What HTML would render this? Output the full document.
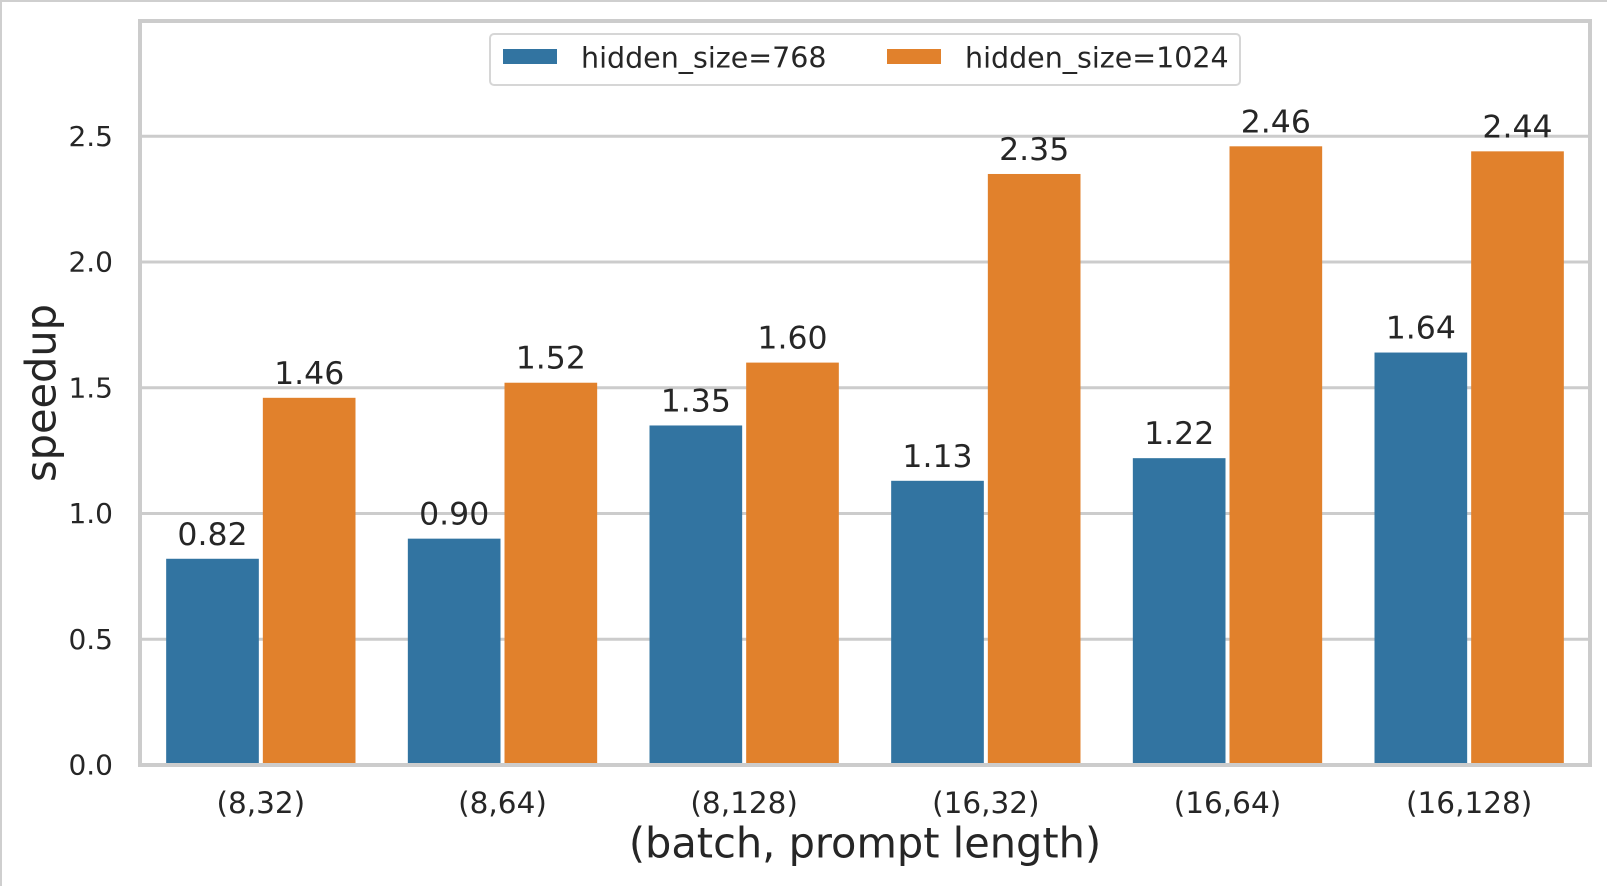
<!DOCTYPE html>
<html><head><meta charset="utf-8"><style>
html,body{margin:0;padding:0;background:#fff}
svg{display:block}
text{font-family:"DejaVu Sans","Liberation Sans",sans-serif;fill:#262626}
</style></head><body>
<svg id="chart" width="1607" height="886" viewBox="0 0 1607 886" xmlns="http://www.w3.org/2000/svg">
<rect x="1" y="1" width="1620" height="900" fill="#fff" stroke="#cfcfcf" stroke-width="2"/>
<g id="grid"></g>
<g id="bars"></g>
<g id="labels"></g>
<rect x="140" y="21" width="1450" height="744" fill="none" stroke="#cccccc" stroke-width="4"/>
<g id="yticks"></g>
<g id="xticks"></g>
<text x="41" y="393" font-size="41.5" text-anchor="middle" dominant-baseline="central" transform="rotate(-90 41 393)">speedup</text>
<text x="865" y="843" font-size="41.5" text-anchor="middle" dominant-baseline="central">(batch, prompt length)</text>
<g>
<rect x="490" y="34" width="750" height="51" rx="4" fill="#fff" stroke="#d6d6d6" stroke-width="2"/>
<rect x="503" y="49" width="54" height="15" fill="#3274a1"/>
<text x="581" y="58" font-size="28.5" dominant-baseline="central">hidden_size=768</text>
<rect x="887" y="49" width="54" height="15" fill="#e1812c"/>
<text x="965" y="58" font-size="28.5" dominant-baseline="central">hidden_size=1024</text>
</g>
</svg>
<script>
const categories = ["(8,32)","(8,64)","(8,128)","(16,32)","(16,64)","(16,128)"];
const series768 = [0.82,0.90,1.35,1.13,1.22,1.64];
const series1024 = [1.46,1.52,1.60,2.35,2.46,2.44];
const yTicks = [0.0,0.5,1.0,1.5,2.0,2.5];
const yTickLabels = ["0.0","0.5","1.0","1.5","2.0","2.5"];

const NS="http://www.w3.org/2000/svg";
const X0=140, X1=1590, Y0=765, K=251.5;
const band=(X1-X0)/categories.length;
const y=v=>Y0-v*K;
const xc=i=>X0+band*(i+0.5);
function mk(tag,attrs,parent){const e=document.createElementNS(NS,tag);for(const k in attrs)e.setAttribute(k,attrs[k]);document.getElementById(parent).appendChild(e);return e;}

yTicks.forEach((t,i)=>{
  if(t>0){
    const g=mk('line',{x1:X0,x2:X1,y1:y(t),y2:y(t),stroke:'#cccccc','stroke-width':3},'grid');
    
    
  }
  const tl=mk('text',{x:113,y:y(t),'font-size':28,'text-anchor':'end','dominant-baseline':'central'},'yticks');
  tl.textContent=yTickLabels[i];
  
  
});

const bw=band*0.4;
categories.forEach((c,i)=>{
  const cx=xc(i);
  [[series768,'#3274a1',-1,'bar-768'],[series1024,'#e1812c',0,'bar-1024']].forEach(([s,col,off,name])=>{
    const v=s[i];
    const bx=cx+off*bw+2, w=bw-4;
    const r=mk('rect',{x:bx,y:y(v),width:w,height:Y0-y(v),fill:col},'bars');
    
    
    const t=mk('text',{x:bx+w/2,y:y(v)-14,'font-size':31.5,'text-anchor':'middle'},'labels');
    t.textContent=v.toFixed(2);
    
    
  });
  const xt=mk('text',{x:cx,y:803,'font-size':29.5,'text-anchor':'middle','dominant-baseline':'central'},'xticks');
  xt.textContent=c;
  
  
});
</script>
</body></html>
